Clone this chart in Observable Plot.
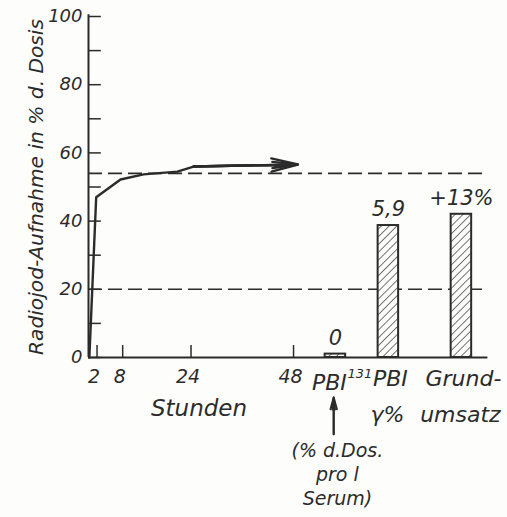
<!DOCTYPE html>
<html>
<head>
<meta charset="utf-8">
<script src="https://cdn.jsdelivr.net/npm/d3@7"></script>
<script src="https://cdn.jsdelivr.net/npm/@observablehq/plot@0.6"></script>
<style>
  html, body { margin: 0; padding: 0; background: #fdfdfc; }
  #chart { width: 507px; height: 517px; }
</style>
</head>
<body>
<div id="chart"></div>
<script>
// ---- data ----
const curveHours  = [0.2, 1.8, 7.5, 12.9, 20.8, 24.6, 49];
const curveValues = [0, 47, 52.2, 53.7, 54.5, 56, 56.6];

const barCategories = ["PBI", "PBI", "Grund-"];
const barSubLabels  = ["", "γ%", "umsatz"];
const barSuperscripts = ["131", "", ""];
const barHours   = [57.8, 70.2, 87.3];
const barValues  = [1, 38.7, 42];
const barValueLabels = ["0", "5,9", "+13%"];

const refLines = [54, 20];
const yTicks = d3.range(0, 101, 10);
const yTickLabels = [0, 20, 40, 60, 80, 100];
const hourTicks = [2, 8, 24, 48];

const yTitle = "Radiojod-Aufnahme in % d. Dosis";
const xTitle = "Stunden";
const noteText = "(% d.Dos.\npro l\nSerum)";
const noteArrowFrom = -22.5, noteArrowTo = -11.7;

// ---- derived tables ----
const curve = curveHours.map((h, i) => ({h, v: curveValues[i]}));
const lastSeg = [{x1: curve[curve.length - 2].h, y1: curve[curve.length - 2].v,
                  x2: curve[curve.length - 1].h, y2: curve[curve.length - 1].v}];
const bars = barCategories.map((c, i) => ({
  cat: c, sub: barSubLabels[i], sup: barSuperscripts[i],
  x: barHours[i], v: barValues[i], label: barValueLabels[i]
}));

const INK = "#2b2b2b";
const FONT = "'DejaVu Sans', sans-serif";
const txt = {fill: INK, fontStyle: "italic", fontFamily: FONT};

const plot = Plot.plot({
  width: 507,
  height: 517,
  marginLeft: 88,
  marginRight: 26,
  marginTop: 16,
  marginBottom: 160,
  style: {background: "#fdfdfc", color: INK, fontFamily: FONT, fontStyle: "italic", fontSize: "19px", overflow: "visible"},
  x: {domain: [0, 92], axis: null},
  y: {domain: [0, 100], axis: null},
  marks: [
    // reference dashed lines
    Plot.ruleY(refLines, {y: d => d, x1: 0, x2: 92.5, stroke: INK, strokeWidth: 1.6, strokeDasharray: "14,6"}),
    // bars
    Plot.rectY(bars, {x1: d => d.x - 2.4, x2: d => d.x + 2.4, y1: 0, y2: "v", fill: "url(#hatch)", stroke: INK, strokeWidth: 2}),
    Plot.text(bars, {x: "x", y: "v", text: "label", dy: -16, fontSize: 21, ...txt}),
    // y axis
    Plot.ruleX([0], {y1: 0, y2: 100.5, stroke: INK, strokeWidth: 2}),
    Plot.ruleY(yTicks, {y: d => d, x1: 0, x2: 3, stroke: INK, strokeWidth: 1.5}),
    Plot.axisY(yTickLabels, {tickSize: 0, tickPadding: 6, label: null, fontSize: 18, ...txt}),
    Plot.text([yTitle], {frameAnchor: "left", textAnchor: "middle", rotate: -90, dx: -52, fontSize: 20, ...txt, className: "ytitle"}),
    // x axis
    Plot.ruleY([0], {x1: 0, x2: 93.5, stroke: INK, strokeWidth: 2}),
    Plot.ruleX(hourTicks, {x: d => d, y1: 0, y2: 3.5, stroke: INK, strokeWidth: 1.5}),
    Plot.text(hourTicks, {x: d => d, y: 0, text: d => String(d), dy: 19, dx: -3, fontSize: 19, ...txt}),
    Plot.text([xTitle], {x: hourTicks[2], y: 0, text: d => d, dx: 8, dy: 51, fontSize: 23, ...txt}),
    // category labels
    Plot.text(bars.filter(d => d.sup), {x: "x", y: 0, text: "cat", dx: -6, dy: 25, fontSize: 22, ...txt}),
    Plot.text(bars.filter(d => d.sup), {x: "x", y: 0, text: "sup", dx: 12, dy: 16, textAnchor: "start", fontSize: 13, ...txt}),
    Plot.text(bars.filter(d => !d.sup), {x: "x", y: 0, text: "cat", dx: 2, dy: 21, fontSize: 22, ...txt}),
    Plot.text(bars.filter(d => d.sub), {x: "x", y: 0, text: "sub", dx: -1, dy: 57, fontSize: 22, ...txt}),
    // note below PBI131
    Plot.text([noteText], {x: barHours[0], y: 0, text: d => d, dx: 2, dy: 116, lineHeight: 1.25, fontSize: 19, ...txt}),
    Plot.arrow([{x: barHours[0] - 0.4, a: noteArrowFrom, b: noteArrowTo}], {x1: "x", x2: "x", y1: "a", y2: "b", stroke: INK, strokeWidth: 2, headLength: 12, headAngle: 30}),
    Plot.arrow([{x: barHours[0] - 0.4, a: noteArrowFrom, b: noteArrowTo}], {x1: "x", x2: "x", y1: "a", y2: "b", stroke: INK, strokeWidth: 2, headLength: 11, headAngle: 12}),
    // uptake curve
    Plot.line(curve, {x: "h", y: "v", stroke: INK, strokeWidth: 2.4, strokeLinejoin: "round"}),
    Plot.arrow(lastSeg, {x1: "x1", y1: "y1", x2: "x2", y2: "y2", stroke: INK, strokeWidth: 2.4, headLength: 17, headAngle: 28}),
    Plot.arrow(lastSeg, {x1: "x1", y1: "y1", x2: "x2", y2: "y2", stroke: INK, strokeWidth: 2.4, headLength: 16, headAngle: 14})
  ]
});

// hatch pattern for bars
const ns = "http://www.w3.org/2000/svg";
const defs = document.createElementNS(ns, "defs");
defs.innerHTML = `<pattern id="hatch" patternUnits="userSpaceOnUse" width="5.5" height="5.5" patternTransform="rotate(45)">
  <rect width="5.5" height="5.5" fill="#fdfdfc"></rect>
  <line x1="0" y1="0" x2="0" y2="5.5" stroke="${INK}" stroke-width="1.3"></line>
</pattern>`;
plot.insertBefore(defs, plot.firstChild);

document.getElementById("chart").appendChild(plot);

// fit the rotated y title to the axis height, like the reference lettering
const yt = plot.querySelector(".ytitle text");
if (yt) { yt.setAttribute("textLength", 336); yt.setAttribute("lengthAdjust", "spacingAndGlyphs"); }
</script>
</body>
</html>
